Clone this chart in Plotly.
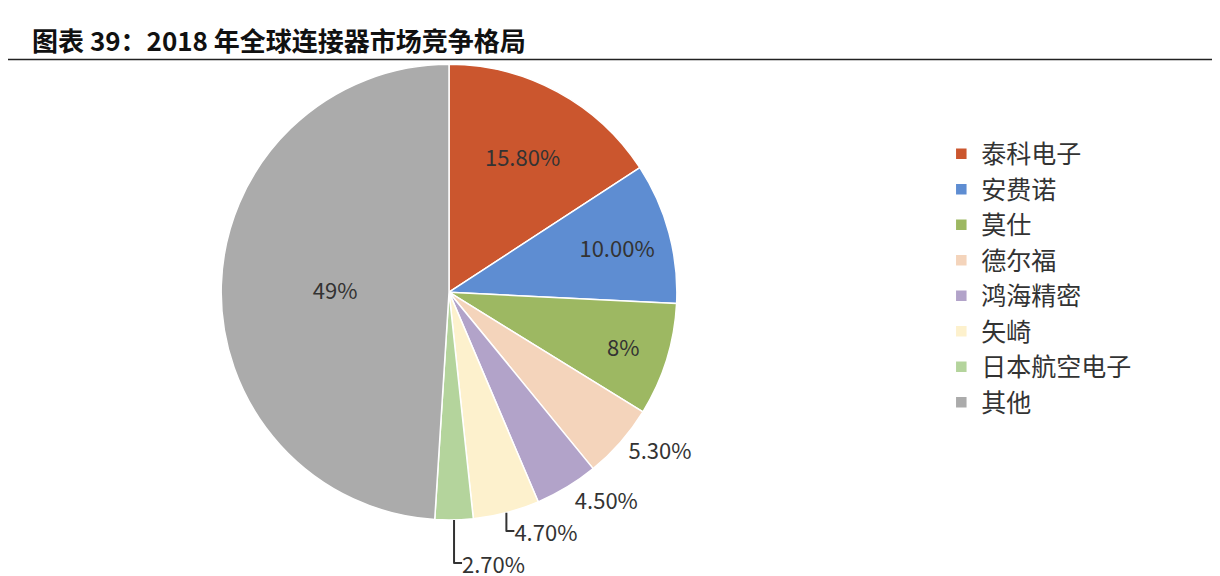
import plotly.graph_objects as go

labels = ["泰科电子", "安费诺", "莫仕", "德尔福", "鸿海精密", "矢崎", "日本航空电子", "其他"]
values = [15.8, 10.0, 8.0, 5.3, 4.5, 4.7, 2.7, 49.0]
texts = ["15.80%", "10.00%", "8%", "5.30%", "4.50%", "4.70%", "2.70%", "49%"]
colors = ["#CB562E", "#5E8DD2", "#9DB862", "#F4D4BB", "#B2A3C9", "#FDF1CD", "#B4D49C", "#ABABAB"]
positions = ["inside", "inside", "inside", "outside", "outside", "outside", "outside", "inside"]

fig = go.Figure(go.Pie(
    labels=labels, values=values, text=texts, textinfo="text",
    textposition=positions, sort=False, direction="clockwise", rotation=0,
    marker=dict(colors=colors, line=dict(color="white", width=1.5)),
    textfont=dict(size=22, color="#333333", family="Noto Sans CJK SC"),
    insidetextorientation="horizontal",
    domain=dict(x=[0.151, 0.572], y=[0.0, 0.89]),
    hoverinfo="label+percent",
))
fig.update_layout(
    width=1220, height=576, margin=dict(l=0, r=0, t=0, b=0),
    paper_bgcolor="white", plot_bgcolor="white",
    font=dict(family="Noto Sans CJK SC", color="#333333"),
    legend=dict(x=0.765, y=0.76, yanchor="top", font=dict(size=25, color="#333333"),
                itemwidth=30, tracegroupgap=0),
    annotations=[dict(text="<b>图表 39：2018 年全球连接器市场竞争格局</b>", xref="paper", yref="paper",
                      x=0.018, y=1 - 35/576, xanchor="left", yanchor="middle", showarrow=False,
                      font=dict(size=26, color="#111111", family="Noto Sans CJK SC"))],
    shapes=[dict(type="line", xref="paper", yref="paper", x0=0, x1=1, y0=1 - 58/576, y1=1 - 58/576,
                 line=dict(color="#222222", width=1.5))],
)
fig.write_html("out.html")
